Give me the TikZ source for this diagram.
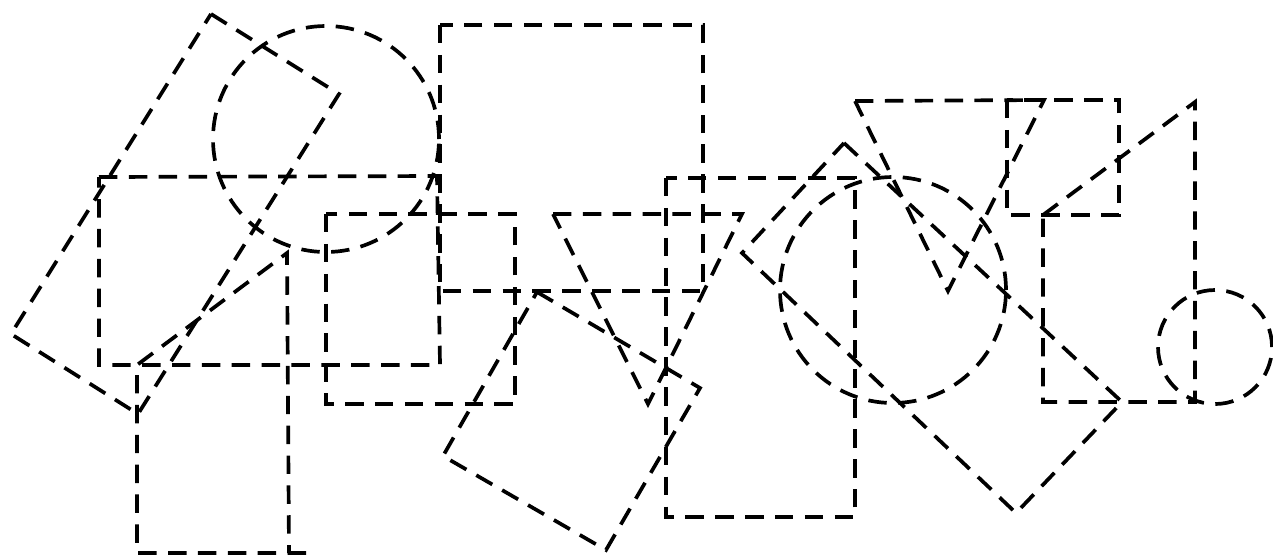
\documentclass[tikz,border=0pt]{standalone}
\usepackage{tikz}
\usetikzlibrary{calc}
\tikzset{
  outl/.style={draw=black, line width=2.1pt, dash pattern=on 10.5pt off 6.5pt},
  rnd/.style={outl, radius=#1*0.02cm},
}

\begin{document}
\begin{tikzpicture}[x=0.02cm, y=-0.02cm]
  \useasboundingbox (0,0) rectangle (1273,556);
%---------------- left group ----------------
  % tilted box
  \draw[outl] (211,14) -- (339,94) -- (138,414) -- (11,334) -- cycle;
  \draw[rnd=113] (326,139) circle;
  \draw[outl] (99,177) -- (437,176) -- (440,365) -- (99,365) -- cycle;
  % box with slanted top
  \draw[outl] (306,553) -- (137,553) -- (137,365) -- (287,253) -- (289,553);
  \draw[outl] (326,214) rectangle (515,404);
%---------------- middle group ----------------
  \draw[outl] (440,25) rectangle (703,291);
  \draw[outl] (553,214) -- (742,214) -- (648,404) -- cycle;
  \draw[outl] (537,292) -- (700,388) -- (606,550) -- (443,456) -- cycle;
  \draw[outl] (666,178) rectangle (855,517);
%---------------- right group ----------------
  \draw[rnd=113] (893,290) circle;
  \draw[outl] (844,143) -- (1122,402) -- (1016,513) -- (742,253) -- cycle;
  \draw[outl] (855,101) -- (1044,100) -- (948,291) -- cycle;
  \draw[outl] (1007,100) rectangle (1119,215);
  \draw[outl] (1043,215) -- (1195,102) -- (1195,402) -- (1043,402) -- cycle;
  \draw[rnd=57] (1215,347) circle;
\end{tikzpicture}
\end{document}
